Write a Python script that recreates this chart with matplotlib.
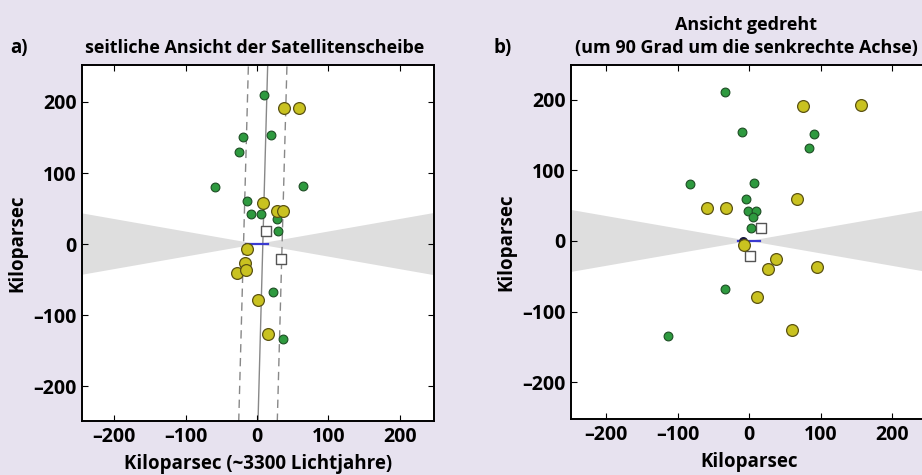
import numpy as np
import matplotlib.pyplot as plt
from matplotlib.patches import Polygon

# satellite positions in kpc
green_a_x = [10, -20, 20, -25, -59, 64, -14, -9, 6, 28, 30, 23, 37]
green_a_y = [210, 150, 153, 130, 80, 82, 60, 42, 43, 35, 18, -68, -134]
yellow_a_x = [38, 59, 8, 28, 36, -14, -17, -28, -16, 1, 16]
yellow_a_y = [191, 191, 58, 46, 46, -7, -26, -41, -37, -79, -126]

green_b_x = [-34, -10, 91, 83, -83, 7, -5, -2, 9, 5, 3, -34, -114]
green_b_y = [211, 154, 151, 131, 80, 82, 60, 42, 43, 34, 19, -68, -135]
yellow_b_x = [75, 156, -59, -33, 67, -7, 38, 26, 95, 11, 60]
yellow_b_y = [191, 192, 46, 46, 59, -6, -26, -40, -37, -79, -126]

# open squares (other galaxies)
square_a_x = [13, 34]
square_a_y = [18, -21]
square_b_x = [17, 1]
square_b_y = [18, -21]

# milky way disk and centre (centre only visible in view b)
disk_x = [-16, 15]
center_b_x = -8

# fitted plane in view a (x at top / bottom of axes) and its half thickness
plane_y = [250, -250]
plane_x = [15, 1.5]
plane_half = 27

wedge_angle = 10  # degrees, zone of avoidance
ticks = [-200, -100, 0, 100, 200]
tick_labels = ["\u2013200", "\u2013100", "0", "100", "200"]

bg = "#e7e2ef"
green = "#2e9a3f"
yellow = "#c9c220"

plt.rcParams["font.family"] = ["Open Sans", "DejaVu Sans"]
plt.rcParams["font.weight"] = "bold"

fig = plt.figure(figsize=(9.22, 4.75), dpi=100, facecolor=bg)

ax_a = fig.add_axes([82 / 922, 1 - 421 / 475, 352 / 922, 356 / 475])
ax_b = fig.add_axes([571 / 922, 1 - 419 / 475, 357 / 922, 354 / 475])


def setup(ax, xlim, ylim):
    ax.set_xlim(*xlim)
    ax.set_ylim(*ylim)
    ax.set_facecolor("white")
    ax.set_xticks(ticks)
    ax.set_yticks(ticks)
    ax.set_xticklabels(tick_labels)
    ax.set_yticklabels(tick_labels)
    ax.tick_params(direction="in", top=True, right=True, length=4,
                   width=0.8, labelsize=14, pad=4)
    for lab in ax.get_xticklabels() + ax.get_yticklabels():
        lab.set_fontweight("bold")
    for s in ax.spines.values():
        s.set_linewidth(1.4)
    # grey double wedge
    L = 400
    h = L * np.tan(np.radians(wedge_angle))
    ax.add_patch(Polygon([(-L, -h), (-L, h), (0, 0)], closed=True,
                         facecolor="#dedede", edgecolor="none", zorder=0.5))
    ax.add_patch(Polygon([(L, -h), (L, h), (0, 0)], closed=True,
                         facecolor="#dedede", edgecolor="none", zorder=0.5))


setup(ax_a, (-245, 248), (-249, 252))
setup(ax_b, (-249, 250), (-252, 249))

# plane lines in view a
ax_a.plot(plane_x, plane_y, color="#888888", lw=1.0, zorder=1)
ax_a.plot([x - plane_half for x in plane_x], plane_y, color="#888888",
          lw=1.0, ls=(0, (6, 4)), zorder=1)
ax_a.plot([x + plane_half for x in plane_x], plane_y, color="#888888",
          lw=1.0, ls=(0, (6, 4)), zorder=1)

ax_b.scatter([center_b_x], [0], s=30, color="#1a1a40", zorder=2.5)

for ax, gx, gy, yx, yy, sx, sy in [
    (ax_a, green_a_x, green_a_y, yellow_a_x, yellow_a_y, square_a_x, square_a_y),
    (ax_b, green_b_x, green_b_y, yellow_b_x, yellow_b_y, square_b_x, square_b_y),
]:
    ax.plot(disk_x, [0, 0], color="#3a3ad0", lw=1.6, zorder=2)
    ax.scatter(sx, sy, s=55, marker="s", facecolor="white",
               edgecolor="#555555", linewidths=1.0, zorder=3)
    ax.scatter(gx, gy, s=40, color=green, edgecolor="#1d4d24",
               linewidths=0.8, zorder=4)
    ax.scatter(yx, yy, s=72, color=yellow, edgecolor="#5a5212",
               linewidths=0.9, zorder=5)

ax_a.set_xlabel("Kiloparsec (~3300 Lichtjahre)", fontsize=13.5,
                fontweight="bold", labelpad=5)
ax_b.set_xlabel("Kiloparsec", fontsize=13.5, fontweight="bold", labelpad=5)
ax_a.set_ylabel("Kiloparsec", fontsize=13.5, fontweight="bold", labelpad=4)
ax_b.set_ylabel("Kiloparsec", fontsize=13.5, fontweight="bold", labelpad=4)

fig.text(10 / 922, 1 - 48 / 475, "a)", fontsize=13.5, fontweight="bold",
         va="center", ha="left")
fig.text(255 / 922, 1 - 48 / 475, "seitliche Ansicht der Satellitenscheibe",
         fontsize=13, fontweight="bold", va="center", ha="center")
fig.text(493 / 922, 1 - 48 / 475, "b)", fontsize=13.5, fontweight="bold",
         va="center", ha="left")
fig.text(746 / 922, 1 - 25 / 475, "Ansicht gedreht", fontsize=13,
         fontweight="bold", va="center", ha="center")
fig.text(746 / 922, 1 - 48 / 475, "(um 90 Grad um die senkrechte Achse)",
         fontsize=13, fontweight="bold", va="center", ha="center")

fig.savefig("out.png", dpi=100, facecolor=bg)
